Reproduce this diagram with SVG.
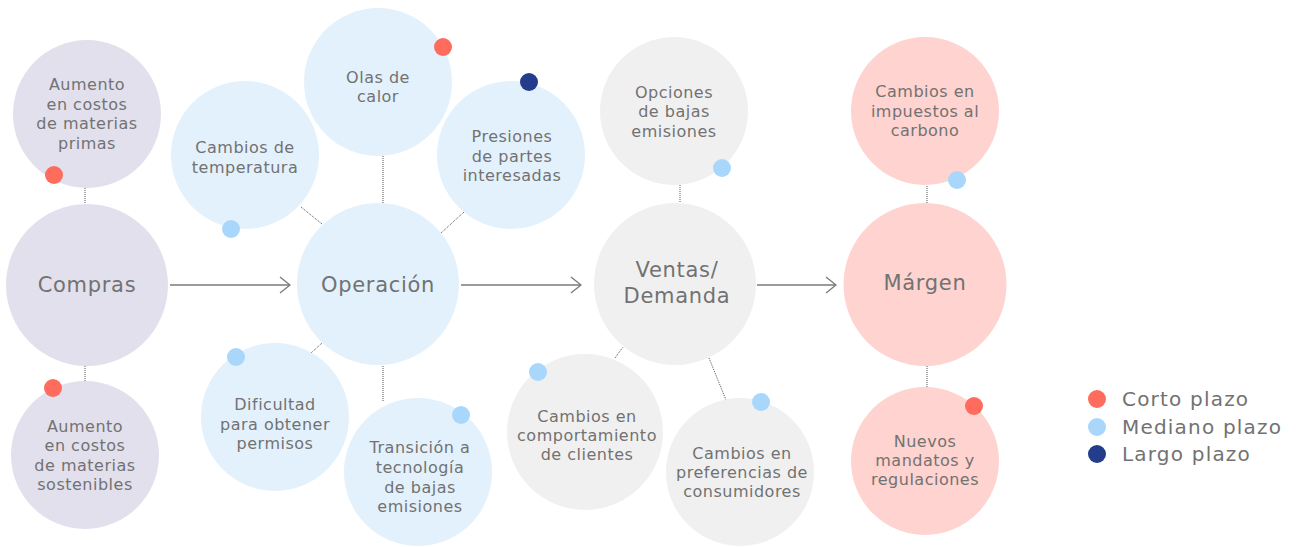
<svg xmlns="http://www.w3.org/2000/svg" width="1298" height="547" viewBox="0 0 1298 547">
<defs>
<style>
.t{font-family:"DejaVu Sans","Noto Sans",sans-serif;font-size:16px;fill:#727272;text-anchor:middle;letter-spacing:0.5px}
.m{font-family:"DejaVu Sans","Noto Sans",sans-serif;font-size:21px;fill:#727272;text-anchor:middle;letter-spacing:0.7px}
.lg{font-family:"DejaVu Sans","Noto Sans",sans-serif;font-size:20px;fill:#727272;letter-spacing:1.2px}
.pu{fill:#e2e0ec}
.bl{fill:#e3f1fc}
.gr{fill:#f0f0f0}
.pk{fill:#ffd3cf}
.r{fill:#ff6b5c}
.lb{fill:#a9d7fb}
.db{fill:#233d8c}
.dot{stroke:#555;stroke-width:1;stroke-dasharray:1 1;fill:none}
.arr{stroke:#7a7a7a;stroke-width:1.3;fill:none}
</style>
<marker id="ah" viewBox="0 0 12 18" refX="11" refY="9" markerWidth="12" markerHeight="18" markerUnits="userSpaceOnUse" orient="auto">
<path d="M1,1 L11,9 L1,17" fill="none" stroke="#7a7a7a" stroke-width="1.3"/>
</marker>
</defs>
<rect width="1298" height="547" fill="#ffffff"/>

<g id="connectors">
<line class="dot" x1="85" y1="188" x2="85" y2="203"/>
<line class="dot" x1="85" y1="366" x2="85" y2="382"/>
<line class="dot" x1="301" y1="207" x2="322" y2="224"/>
<line class="dot" x1="383" y1="156" x2="383" y2="203"/>
<line class="dot" x1="464" y1="212" x2="441" y2="233"/>
<line class="dot" x1="311" y1="353" x2="322" y2="343"/>
<line class="dot" x1="383" y1="366" x2="383" y2="402"/>
<line class="dot" x1="680" y1="185" x2="680" y2="203"/>
<line class="dot" x1="615" y1="358" x2="623" y2="347"/>
<line class="dot" x1="709" y1="358" x2="726" y2="400"/>
<line class="dot" x1="927" y1="186" x2="927" y2="203"/>
<line class="dot" x1="927" y1="366" x2="927" y2="387"/>
<line class="arr" x1="170" y1="285" x2="290" y2="285" marker-end="url(#ah)"/>
<line class="arr" x1="461" y1="285" x2="581" y2="285" marker-end="url(#ah)"/>
<line class="arr" x1="757" y1="285" x2="836" y2="285" marker-end="url(#ah)"/>
</g>

<g id="compras">
<circle class="pu" cx="87" cy="285" r="81"/>
<text class="m" x="87" y="292">Compras</text>
</g>
<g id="aumento-primas">
<circle class="pu" cx="87" cy="114" r="74"/>
<text class="t" x="87" y="90">Aumento</text>
<text class="t" x="87" y="109.5">en costos</text>
<text class="t" x="87" y="129">de materias</text>
<text class="t" x="87" y="148.5">primas</text>
<circle class="r" cx="54" cy="175" r="9"/>
</g>
<g id="aumento-sostenibles">
<circle class="pu" cx="85" cy="455" r="74"/>
<text class="t" x="85" y="432">Aumento</text>
<text class="t" x="85" y="451">en costos</text>
<text class="t" x="85" y="470.5">de materias</text>
<text class="t" x="85" y="490">sostenibles</text>
<circle class="r" cx="53" cy="388" r="9"/>
</g>

<g id="operacion">
<circle class="bl" cx="378" cy="284" r="81"/>
<text class="m" x="378" y="292">Operación</text>
</g>
<g id="temperatura">
<circle class="bl" cx="245" cy="155" r="74"/>
<text class="t" x="245" y="153">Cambios de</text>
<text class="t" x="245" y="173">temperatura</text>
<circle class="lb" cx="231" cy="229" r="9"/>
</g>
<g id="olas">
<circle class="bl" cx="378" cy="82" r="74"/>
<text class="t" x="378" y="83">Olas de</text>
<text class="t" x="378" y="102">calor</text>
<circle class="r" cx="443" cy="47" r="9"/>
</g>
<g id="presiones">
<circle class="bl" cx="511" cy="155" r="74"/>
<text class="t" x="512" y="142">Presiones</text>
<text class="t" x="512" y="161.5">de partes</text>
<text class="t" x="512" y="181">interesadas</text>
<circle class="db" cx="529" cy="82" r="9"/>
</g>
<g id="dificultad">
<circle class="bl" cx="275" cy="417" r="74"/>
<text class="t" x="275" y="410">Dificultad</text>
<text class="t" x="275" y="430">para obtener</text>
<text class="t" x="275" y="449">permisos</text>
<circle class="lb" cx="236" cy="357" r="9"/>
</g>
<g id="transicion">
<circle class="bl" cx="418" cy="472" r="74"/>
<text class="t" x="420" y="453">Transición a</text>
<text class="t" x="420" y="473">tecnología</text>
<text class="t" x="420" y="493">de bajas</text>
<text class="t" x="420" y="512">emisiones</text>
<circle class="lb" cx="461" cy="415" r="9"/>
</g>

<g id="ventas">
<circle class="gr" cx="675" cy="284" r="81"/>
<text class="m" x="677" y="277">Ventas/</text>
<text class="m" x="677" y="303">Demanda</text>
</g>
<g id="opciones">
<circle class="gr" cx="674" cy="111" r="74"/>
<text class="t" x="674" y="98">Opciones</text>
<text class="t" x="674" y="117">de bajas</text>
<text class="t" x="674" y="137">emisiones</text>
<circle class="lb" cx="722" cy="168" r="9"/>
</g>
<g id="comportamiento">
<circle class="gr" cx="585" cy="432" r="78"/>
<text class="t" x="587" y="422">Cambios en</text>
<text class="t" x="587" y="441">comportamiento</text>
<text class="t" x="587" y="459.5">de clientes</text>
<circle class="lb" cx="538" cy="372" r="9"/>
</g>
<g id="preferencias">
<circle class="gr" cx="740" cy="472" r="74"/>
<text class="t" x="742" y="459">Cambios en</text>
<text class="t" x="742" y="478">preferencias de</text>
<text class="t" x="742" y="497">consumidores</text>
<circle class="lb" cx="761" cy="402" r="9"/>
</g>

<g id="margen">
<circle class="pk" cx="925" cy="284.5" r="81.5"/>
<text class="m" x="925" y="290">Márgen</text>
</g>
<g id="impuestos">
<circle class="pk" cx="925" cy="111" r="74"/>
<text class="t" x="925" y="97">Cambios en</text>
<text class="t" x="925" y="116.5">impuestos al</text>
<text class="t" x="925" y="136">carbono</text>
<circle class="lb" cx="957" cy="180" r="9"/>
</g>
<g id="mandatos">
<circle class="pk" cx="925" cy="461" r="74"/>
<text class="t" x="925" y="447">Nuevos</text>
<text class="t" x="925" y="466">mandatos y</text>
<text class="t" x="925" y="485">regulaciones</text>
<circle class="r" cx="974" cy="406" r="9"/>
</g>

<g id="legend">
<circle class="r" cx="1097" cy="399" r="9"/>
<text class="lg" x="1122" y="406">Corto plazo</text>
<circle class="lb" cx="1097" cy="427" r="9"/>
<text class="lg" x="1122" y="434">Mediano plazo</text>
<circle class="db" cx="1097" cy="454" r="9"/>
<text class="lg" x="1122" y="461">Largo plazo</text>
</g>
</svg>
